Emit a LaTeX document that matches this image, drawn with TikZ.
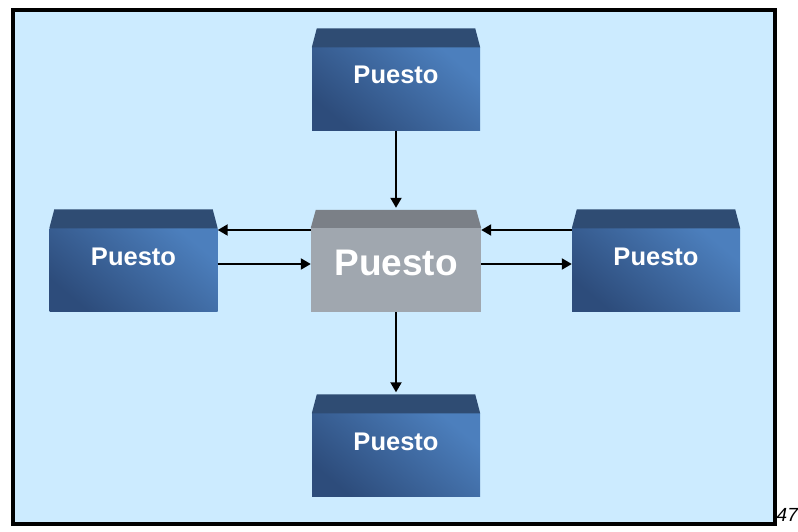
\documentclass[tikz,border=0pt]{standalone}
\usepackage{fontspec}
\setmainfont{Liberation Sans}
\usetikzlibrary{arrows.meta, calc}

\definecolor{bgblue}{HTML}{CCEBFF}
\definecolor{blueLt}{HTML}{4C7FBD}
\definecolor{blueDk}{HTML}{2D4C7B}
\definecolor{blueCap}{HTML}{2F4C73}
\definecolor{grayBody}{HTML}{A0A7AF}
\definecolor{grayCap}{HTML}{7B8087}

\begin{document}
\begin{tikzpicture}[x=1pt, y=-1pt,
    unit/.style={rectangle, minimum width=168pt, minimum height=83pt, inner sep=0pt, top color=blueLt, bottom color=blueDk, shading angle=-40, text=white, font=\fontsize{25.5}{25.5}\selectfont\bfseries, text height=18pt, text depth=28pt},
    hub/.style={rectangle, minimum width=170pt, minimum height=84pt, inner sep=0pt, fill=grayBody, text=white, font=\fontsize{37}{37}\selectfont\bfseries, text height=26.5pt, text depth=16pt},
    roof/.style={fill=blueCap},
    link/.style={-{Triangle[length=10pt, width=11pt]}, line width=2pt, draw=black}
  ]
    \useasboundingbox (0,0) rectangle (798,532);
    \draw[line width=4pt, fill=bgblue] (12.5,10.5) rectangle (774.5,523.5);

    % Nodes
    \node[hub] (hub) at (396,270) {Puesto};
    \node[unit] (ptop) at (396,89) {Puesto};
    \node[unit] (pleft) at (133.5,270) {Puesto};
    \node[unit] (pright) at (656,270) {Puesto};
    \node[unit] (pbot) at (396,455) {Puesto};

    % Roofs
    \foreach \n in {ptop, pleft, pright, pbot}
      \fill[roof] (\n.north west) -- ($(\n.north west)+(5,-19)$) -- ($(\n.north east)+(-5,-19)$) -- (\n.north east) -- cycle;
    \fill[grayCap] (hub.north west) -- ($(hub.north west)+(5,-18)$) -- ($(hub.north east)+(-5,-18)$) -- (hub.north east) -- cycle;

    % Connections
    \draw[link] (ptop.south) -- ([yshift=20pt]hub.north);
    \draw[link] (hub.south) -- ([yshift=21pt]pbot.north);
    \draw[link] ([yshift=40pt]hub.west) -- ([yshift=40pt]pleft.east);
    \draw[link] ([yshift=6pt]pleft.east) -- ([yshift=6pt]hub.west);
    \draw[link] ([yshift=40pt]pright.west) -- ([yshift=40pt]hub.east);
    \draw[link] ([yshift=6pt]hub.east) -- ([yshift=6pt]pright.west);

    \node[font=\itshape\fontsize{19}{19}\selectfont, anchor=base west, inner sep=0pt] (pagenum) at (776.5,521) {47};
\end{tikzpicture}
\end{document}
